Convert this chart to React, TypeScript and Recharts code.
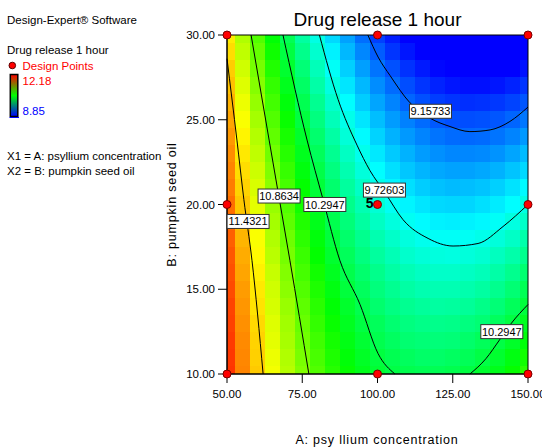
import React from 'react';
import { ComposedChart, XAxis, YAxis, Line, Scatter, ReferenceArea } from 'recharts';

const FONT = '"Liberation Sans", Arial, Helvetica, sans-serif';

// Factor levels of the response grid (A: psyllium concentration, B: pumpkin seed oil)
const aLevels = [50, 55, 60, 65, 70, 75, 80, 85, 90, 95, 100, 105, 110, 115, 120, 125, 130, 135, 140, 145, 150];
const bLevels = [10, 11, 12, 13, 14, 15, 16, 17, 18, 19, 20, 21, 22, 23, 24, 25, 26, 27, 28, 29, 30];

const responseGrid = [
  [12.01, 11.75, 11.52, 11.31, 11.11, 10.94, 10.78, 10.64, 10.53, 10.43, 10.35, 10.29, 10.26, 10.24, 10.24, 10.26, 10.30, 10.36, 10.43, 10.53, 10.65],
  [12.00, 11.74, 11.50, 11.29, 11.09, 10.91, 10.75, 10.61, 10.49, 10.39, 10.31, 10.25, 10.21, 10.18, 10.18, 10.20, 10.23, 10.29, 10.36, 10.46, 10.57],
  [11.99, 11.73, 11.49, 11.26, 11.06, 10.88, 10.72, 10.58, 10.45, 10.35, 10.26, 10.20, 10.15, 10.13, 10.12, 10.13, 10.17, 10.22, 10.29, 10.38, 10.49],
  [11.97, 11.71, 11.47, 11.24, 11.04, 10.85, 10.68, 10.54, 10.41, 10.30, 10.22, 10.15, 10.10, 10.07, 10.06, 10.07, 10.10, 10.14, 10.21, 10.30, 10.41],
  [11.96, 11.69, 11.44, 11.21, 11.01, 10.82, 10.65, 10.50, 10.37, 10.26, 10.16, 10.09, 10.04, 10.01, 9.99, 10.00, 10.02, 10.07, 10.13, 10.22, 10.32],
  [11.94, 11.67, 11.42, 11.19, 10.97, 10.78, 10.61, 10.46, 10.32, 10.21, 10.11, 10.04, 9.98, 9.94, 9.93, 9.93, 9.95, 9.99, 10.05, 10.14, 10.24],
  [11.92, 11.64, 11.39, 11.16, 10.94, 10.74, 10.57, 10.41, 10.27, 10.16, 10.06, 9.98, 9.92, 9.88, 9.86, 9.86, 9.88, 9.91, 9.97, 10.05, 10.15],
  [11.90, 11.62, 11.36, 11.12, 10.90, 10.70, 10.52, 10.36, 10.22, 10.10, 10.00, 9.92, 9.85, 9.81, 9.79, 9.78, 9.80, 9.83, 9.89, 9.96, 10.05],
  [11.87, 11.59, 11.33, 11.09, 10.87, 10.66, 10.48, 10.32, 10.17, 10.05, 9.94, 9.86, 9.79, 9.74, 9.71, 9.71, 9.72, 9.75, 9.80, 9.87, 9.96],
  [11.84, 11.56, 11.30, 11.05, 10.82, 10.62, 10.43, 10.26, 10.12, 9.99, 9.88, 9.79, 9.72, 9.67, 9.64, 9.63, 9.64, 9.66, 9.71, 9.78, 9.86],
  [11.82, 11.53, 11.26, 11.01, 10.78, 10.57, 10.38, 10.21, 10.06, 9.93, 9.82, 9.72, 9.65, 9.60, 9.56, 9.55, 9.55, 9.58, 9.62, 9.68, 9.77],
  [11.78, 11.49, 11.22, 10.97, 10.74, 10.52, 10.33, 10.16, 10.00, 9.87, 9.75, 9.65, 9.58, 9.52, 9.48, 9.46, 9.47, 9.49, 9.53, 9.59, 9.67],
  [11.75, 11.46, 11.18, 10.93, 10.69, 10.47, 10.28, 10.10, 9.94, 9.80, 9.68, 9.58, 9.50, 9.44, 9.40, 9.38, 9.38, 9.40, 9.43, 9.49, 9.56],
  [11.72, 11.42, 11.14, 10.88, 10.64, 10.42, 10.22, 10.04, 9.88, 9.74, 9.61, 9.51, 9.43, 9.36, 9.32, 9.29, 9.29, 9.30, 9.33, 9.39, 9.46],
  [11.68, 11.38, 11.10, 10.83, 10.59, 10.37, 10.16, 9.98, 9.81, 9.67, 9.54, 9.43, 9.35, 9.28, 9.23, 9.20, 9.19, 9.20, 9.23, 9.28, 9.35],
  [11.64, 11.33, 11.05, 10.78, 10.54, 10.31, 10.10, 9.91, 9.75, 9.60, 9.47, 9.36, 9.27, 9.20, 9.14, 9.11, 9.10, 9.11, 9.13, 9.18, 9.24],
  [11.60, 11.29, 11.00, 10.73, 10.48, 10.25, 10.04, 9.85, 9.68, 9.52, 9.39, 9.28, 9.18, 9.11, 9.05, 9.02, 9.00, 9.01, 9.03, 9.07, 9.13],
  [11.55, 11.24, 10.95, 10.68, 10.42, 10.19, 9.97, 9.78, 9.60, 9.45, 9.31, 9.20, 9.10, 9.02, 8.96, 8.92, 8.90, 8.90, 8.92, 8.96, 9.02],
  [11.51, 11.19, 10.90, 10.62, 10.36, 10.13, 9.91, 9.71, 9.53, 9.37, 9.23, 9.11, 9.01, 8.93, 8.87, 8.82, 8.80, 8.80, 8.81, 8.85, 8.91],
  [11.46, 11.14, 10.84, 10.56, 10.30, 10.06, 9.84, 9.64, 9.45, 9.29, 9.15, 9.02, 8.92, 8.84, 8.77, 8.72, 8.70, 8.69, 8.70, 8.74, 8.79],
  [11.41, 11.09, 10.78, 10.50, 10.24, 9.99, 9.77, 9.56, 9.38, 9.21, 9.06, 8.94, 8.83, 8.74, 8.67, 8.62, 8.59, 8.58, 8.59, 8.62, 8.67],
];

const colorMin = 8.85;
const colorMax = 12.18;

const xTicks = [50, 75, 100, 125, 150];
const yTicks = [10, 15, 20, 25, 30];

const designPoints = [
  { A: 50, B: 10, reps: 1 }, { A: 50, B: 20, reps: 1 }, { A: 50, B: 30, reps: 1 },
  { A: 100, B: 10, reps: 1 }, { A: 100, B: 20, reps: 5 }, { A: 100, B: 30, reps: 1 },
  { A: 150, B: 10, reps: 1 }, { A: 150, B: 20, reps: 1 }, { A: 150, B: 30, reps: 1 },
];

// Contour lines
const contour11_4321 = [
  { A: 50, B: 28.6 }, { A: 53.3, B: 23.8 }, { A: 55.6, B: 20.3 }, { A: 58.3, B: 16.7 }, { A: 62.0, B: 10 },
];
const contour10_8634 = [
  { A: 58.0, B: 30 }, { A: 64.0, B: 23.8 }, { A: 67.3, B: 20.4 }, { A: 70.9, B: 16.7 }, { A: 77.2, B: 10 },
];
const contour10_2947a = [
  { A: 68.6, B: 30 }, { A: 76.6, B: 23.8 }, { A: 81.9, B: 20.3 }, { A: 87.5, B: 16.7 },
  { A: 94.2, B: 14.1 }, { A: 100.2, B: 11.2 }, { A: 105.8, B: 10 },
];
const contour10_2947b = [
  { A: 130.7, B: 10 }, { A: 136, B: 10.9 }, { A: 140.5, B: 12 }, { A: 144.5, B: 13 }, { A: 150, B: 14.1 },
];
const contour9_72603 = [
  { A: 80.7, B: 30 }, { A: 86.9, B: 26.2 }, { A: 93.2, B: 23.5 }, { A: 97.5, B: 22.0 }, { A: 102.5, B: 20.7 },
  { A: 108.5, B: 19.1 }, { A: 116.8, B: 18.0 }, { A: 125.1, B: 17.55 }, { A: 133.4, B: 17.7 },
  { A: 141.7, B: 18.7 }, { A: 150, B: 20.0 },
];
const contour9_15733 = [
  { A: 96.8, B: 30 }, { A: 100.2, B: 28.7 }, { A: 104.2, B: 27.6 }, { A: 110.8, B: 26.0 }, { A: 117.4, B: 25.1 },
  { A: 124.1, B: 24.6 }, { A: 130.7, B: 24.3 }, { A: 137.4, B: 24.4 }, { A: 144, B: 24.9 }, { A: 150, B: 25.75 },
];
const contours = [contour11_4321, contour10_8634, contour10_2947a, contour10_2947b, contour9_72603, contour9_15733];

const contourLabels = [
  { A: 57.0, B: 19.0, text: '11.4321' },
  { A: 67.3, B: 20.5, text: '10.8634' },
  { A: 82.5, B: 20.0, text: '10.2947' },
  { A: 102.3, B: 20.85, text: '9.72603' },
  { A: 117.6, B: 25.5, text: '9.15733' },
  { A: 141.3, B: 12.5, text: '10.2947' },
];

const rampStops = [
  [0, 0, 255],
  [0, 255, 255],
  [0, 255, 0],
  [255, 255, 0],
  [255, 0, 0],
];

function rampColor(v: number): string {
  const t = Math.max(0, Math.min(1, (v - colorMin) / (colorMax - colorMin)));
  const s = t * (rampStops.length - 1);
  const i = Math.min(rampStops.length - 2, Math.floor(s));
  const f = s - i;
  const c = rampStops[i].map((c0, k) => Math.round(c0 + (rampStops[i + 1][k] - c0) * f));
  return `rgb(${c[0]},${c[1]},${c[2]})`;
}

type Cell = { x1: number; x2: number; y1: number; y2: number; fill: string; key: string };
const cells: Cell[] = [];
bLevels.forEach((b, i) => {
  const y1 = i === 0 ? b : (bLevels[i - 1] + b) / 2;
  const y2 = i === bLevels.length - 1 ? b : (b + bLevels[i + 1]) / 2;
  aLevels.forEach((a, j) => {
    const x1 = j === 0 ? a : (aLevels[j - 1] + a) / 2;
    const x2 = j === aLevels.length - 1 ? a : (a + aLevels[j + 1]) / 2;
    cells.push({ x1, x2, y1, y2, fill: rampColor(responseGrid[i][j]), key: `c${i}-${j}` });
  });
});

const CellRect = (fill: string) => (p: any) => (
  <rect x={p.x} y={p.y} width={p.width} height={p.height} fill={fill} stroke="none" shapeRendering="crispEdges" />
);

const LabelBox = (props: any) => {
  const { cx, cy, payload } = props;
  const w = 42;
  const h = 14;
  return (
    <g>
      <rect x={cx - w / 2} y={cy - h / 2} width={w} height={h} fill="#fff" stroke="#333" strokeWidth={1} />
      <text x={cx} y={cy + 4} textAnchor="middle" fontSize={11} fontFamily={FONT} fill="#000">
        {payload.text}
      </text>
    </g>
  );
};

const DesignPoint = (props: any) => {
  const { cx, cy, payload } = props;
  return (
    <g>
      {payload.reps > 1 && (
        <text x={cx - 4} y={cy + 3.5} textAnchor="end" fontSize={14} fontWeight="bold" fontFamily={FONT} fill="#000">
          {payload.reps}
        </text>
      )}
      <circle cx={cx} cy={cy} r={4} fill="#ff0000" stroke="#7a0000" strokeWidth={1} />
    </g>
  );
};

const tickStyle = { fill: '#000', fontSize: 11.5, fontFamily: FONT };

export default function App() {
  return (
    <div style={{ position: 'absolute', left: 0, top: 0, width: 542, height: 447, background: '#fff', fontFamily: FONT }}>
      <div style={{ position: 'absolute', left: 0, top: 0 }}>
        <ComposedChart width={542} height={447} margin={{ top: 35, right: 14, bottom: 43, left: 0 }}>
          <XAxis
            type="number"
            dataKey="A"
            domain={[50, 150]}
            ticks={xTicks}
            interval={0}
            tickFormatter={(v: number) => v.toFixed(2)}
            tickSize={9}
            tickMargin={7}
            height={30}
            stroke="#000"
            tick={tickStyle}
          />
          <YAxis
            type="number"
            dataKey="B"
            domain={[10, 30]}
            ticks={yTicks}
            interval={0}
            tickFormatter={(v: number) => v.toFixed(2)}
            tickSize={9}
            tickMargin={3}
            width={227}
            stroke="#000"
            tick={tickStyle}
          />
          {cells.map((c) => (
            <ReferenceArea
              key={c.key}
              x1={c.x1}
              x2={c.x2}
              y1={c.y1}
              y2={c.y2}
              fill={c.fill}
              fillOpacity={1}
              stroke="none"
              ifOverflow="visible"
              shape={CellRect(c.fill)}
            />
          ))}
          <ReferenceArea x1={50} x2={150} y1={10} y2={30} fill="none" fillOpacity={0} stroke="#000" strokeWidth={1} ifOverflow="visible" />
          {contours.map((d, i) => (
            <Line
              key={`ct${i}`}
              data={d}
              dataKey="B"
              type="monotone"
              stroke="#000"
              strokeWidth={1}
              dot={false}
              activeDot={false}
              isAnimationActive={false}
            />
          ))}
          <Scatter data={contourLabels} shape={LabelBox} isAnimationActive={false} />
          <Scatter data={designPoints} shape={DesignPoint} isAnimationActive={false} />
        </ComposedChart>
      </div>
      <svg width={542} height={447} style={{ position: 'absolute', left: 0, top: 0, pointerEvents: 'none' }}>
        <defs>
          <linearGradient id="legendGrad" x1="0" y1="0" x2="0" y2="1">
            <stop offset="0%" stopColor="#ff0000" />
            <stop offset="50%" stopColor="#00ff00" />
            <stop offset="100%" stopColor="#0000ff" />
          </linearGradient>
        </defs>
        <g fontFamily={FONT}>
          <text x={7} y={24} fontSize={11.5} fill="#000">Design-Expert® Software</text>
          <text x={7} y={54} fontSize={11.5} fill="#000">Drug release 1 hour</text>
          <circle cx={12.3} cy={65.5} r={3.3} fill="#ff0000" stroke="#5a0000" strokeWidth={1} />
          <text x={22.5} y={69.5} fontSize={11.5} fill="#ff0000">Design Points</text>
          <rect x={10.3} y={74.5} width={7.5} height={42} fill="url(#legendGrad)" stroke="#000" strokeWidth={1.5} />
          <line x1={9.5} x2={19} y1={117.5} y2={117.5} stroke="#0000ff" strokeWidth={1} />
          <text x={22.5} y={85} fontSize={11.5} fill="#ff0000">12.18</text>
          <text x={22.5} y={114.5} fontSize={11.5} fill="#0000ff">8.85</text>
          <text x={7} y={160} fontSize={11.5} fill="#000">X1 = A: psyllium concentration</text>
          <text x={7} y={175} fontSize={11.5} fill="#000">X2 = B: pumpkin seed oil</text>
          <text x={377.5} y={26} fontSize={19} textAnchor="middle" fill="#000">Drug release 1 hour</text>
          <text x={377} y={444} fontSize={12.5} letterSpacing={0.8} textAnchor="middle" fill="#000">A: psy llium concentration</text>
          <text
            x={0}
            y={0}
            fontSize={12.5}
            letterSpacing={0.8}
            textAnchor="middle"
            fill="#000"
            transform="translate(176,204.5) rotate(-90)"
          >
            B: pumpkin seed oil
          </text>
        </g>
      </svg>
    </div>
  );
}
